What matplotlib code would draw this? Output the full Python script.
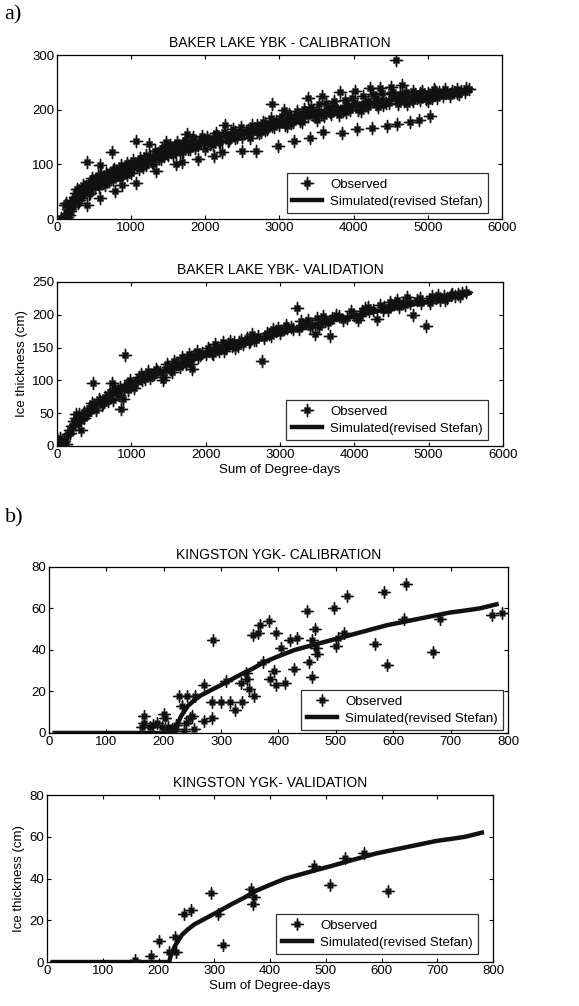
import numpy as np
import matplotlib
matplotlib.use('Agg')
import matplotlib.pyplot as plt
from matplotlib.path import Path

plt.rcParams['font.family'] = ['Liberation Sans', 'DejaVu Sans']

# Baker Lake - calibration: observed (x = sum of degree-days, y = ice thickness cm)
bk_cal_x = [60, 80, 100, 110, 120, 130, 140, 150, 160, 170, 180, 200, 220, 240, 260, 280, 300, 320, 340, 360,
            380, 400, 400, 420, 440, 460, 480, 500, 520, 560, 575, 580, 600, 640, 680, 720, 740, 760, 785, 800,
            840, 870, 880, 920, 960, 1000, 1040, 1060, 1070, 1100, 1140, 1180, 1220, 1245, 1260, 1300, 1340, 1360,
            1400, 1440, 1470, 1500, 1540, 1580, 1600, 1640, 1690, 1700, 1750, 1780, 1820, 1860, 1900, 1940, 1980,
            2020, 2060, 2100, 2120, 2160, 2200, 2230, 2270, 2300, 2350, 2400, 2450, 2500, 2550, 2600, 2650, 2690,
            2700, 2750, 2800, 2850, 2900, 2950, 2980, 3000, 3060, 3100, 3150, 3200, 3250, 3300, 3350, 3390, 3410,
            3450, 3500, 3570, 3580, 3600, 3650, 3700, 3750, 3820, 3840, 3850, 3900, 3950, 4020, 4040, 4050, 4100,
            4150, 4200, 4225, 4245, 4300, 4350, 4400, 4450, 4480, 4500, 4560, 4571, 4590, 4600, 4650, 4680, 4700,
            4760, 4780, 4830, 4880, 4900, 4950, 5000, 5030, 5050, 5100, 5150, 5200, 5250, 5300, 5350, 5400, 5450,
            5500, 5550,
            2000, 2100, 2200, 2300, 2400, 2500, 2600, 2700, 2800, 2900, 3000, 3100, 3200, 3300, 3400, 3500, 3600,
            3700, 3800, 3900, 4000, 4100, 4200, 4300, 4400, 4500, 4600, 4700, 4800, 4900, 5000, 5100, 5200, 5300,
            5400, 1000, 1100, 1200, 1300, 1400, 1500, 1600, 1700, 1800, 1900, 300, 350, 450, 550, 650, 750, 850, 950,
            250, 270, 330, 390, 430, 470, 510, 540, 590, 620, 660, 700, 730, 770, 810, 860, 900, 940, 980, 1020,
            1080, 1120, 1160, 1200, 1280, 1320, 1380, 1420, 1480, 1520, 1560, 1620, 1660, 1720, 1760, 1840, 1880,
            1960, 2040, 2140, 2180, 2250, 2320, 2380, 2430, 2480, 2580, 2630, 2720, 2780, 2830, 2880, 2930, 3030,
            3080, 3130, 3180, 3230, 3280, 3330, 3380, 3430, 3480, 3530, 3560, 3630, 3680, 3730, 3780, 3880, 3930,
            3980, 4060, 4120, 4180, 4260, 4330, 4380, 4430, 4530, 4620, 4720, 4800, 4860, 4920, 4980, 5080, 5130,
            5230, 5330, 5420, 5520]
bk_cal_y = [2, 0, 5, 25, 30, 10, 3, 18, 8, 28, 15, 35, 22, 40, 48, 30, 52, 38, 45, 58,
            50, 105, 25, 62, 55, 70, 60, 66, 72, 58, 98, 38, 75, 70, 80, 85, 122, 72, 52, 88,
            92, 62, 80, 96, 90, 100, 95, 66, 143, 105, 100, 110, 105, 138, 115, 112, 88, 120,
            125, 115, 140, 128, 122, 132, 100, 130, 105, 138, 155, 135, 142, 130, 110, 145, 140,
            150, 138, 148, 115, 152, 145, 122, 172, 150, 155, 148, 158, 125, 160, 155, 165, 125,
            172, 160, 175, 168, 210, 180, 133, 172, 200, 182, 175, 142, 190, 185, 195, 222, 148,
            190, 198, 225, 160, 195, 200, 192, 205, 232, 158, 198, 208, 200, 235, 165, 210, 205,
            212, 215, 240, 166, 210, 240, 218, 170, 212, 242, 222, 290, 174, 220, 245, 215, 225,
            178, 220, 228, 182, 218, 226, 230, 188, 222, 228, 232, 225, 230, 228, 232, 230, 235,
            232, 238,
            128, 135, 140, 143, 160, 150, 148, 160, 162, 170, 180, 170, 185, 178, 200, 182, 188,
            205, 190, 195, 212, 198, 205, 222, 208, 228, 210, 232, 215, 230, 215, 235, 233, 225,
            237, 85, 92, 98, 100, 110, 118, 125, 122, 128, 135, 35, 62, 48, 80, 62, 90, 75, 80,
            40, 55, 48, 60, 45, 75, 58, 68, 82, 65, 85, 70, 78, 92, 80, 98, 85, 102, 92, 108,
            98, 112, 95, 118, 105, 125, 112, 130, 120, 135, 118, 140, 122, 145, 128, 150, 138,
            152, 142, 158, 140, 160, 145, 165, 150, 168, 162, 172, 158, 178, 165, 185, 168, 188,
            172, 192, 178, 198, 180, 202, 188, 205, 188, 210, 192, 212, 196, 215, 200, 218, 205,
            222, 200, 225, 208, 228, 205, 230, 212, 232, 228, 210, 235, 222, 235, 220, 238, 222,
            238, 235, 228, 240]
bk_cal_sim_x = [120, 150, 200, 300, 400, 500, 700, 1000, 1500, 2000, 2500, 3000, 3500, 4000, 4500, 5000, 5550]
bk_cal_sim_y = [0, 12, 25, 42, 55, 65, 80, 98, 125, 145, 160, 178, 195, 208, 218, 226, 236]

# Baker Lake - validation
bk_val_x = [0, 20, 40, 60, 80, 100, 120, 150, 180, 200, 230, 260, 280, 300, 320, 340, 370, 400, 430, 460,
            482, 500, 540, 580, 620, 660, 700, 745, 760, 800, 830, 866, 887, 900, 915, 950, 1000, 1050, 1100,
            1150, 1200, 1250, 1300, 1350, 1420, 1440, 1460, 1500, 1550, 1600, 1650, 1700, 1750, 1800, 1820, 1850,
            1900, 1950, 2000, 2050, 2100, 2150, 2200, 2250, 2300, 2350, 2400, 2450, 2500, 2550, 2600, 2650, 2700,
            2755, 2780, 2850, 2900, 2950, 3000, 3050, 3100, 3150, 3224, 3250, 3300, 3350, 3400, 3469, 3500, 3550,
            3600, 3673, 3700, 3800, 3900, 4000, 4050, 4100, 4150, 4200, 4306, 4350, 4400, 4450, 4500, 4550, 4600,
            4650, 4714, 4750, 4796, 4850, 4900, 4959, 5000, 5050, 5100, 5150, 5200, 5250, 5300, 5350, 5400, 5450,
            170, 220, 250, 310, 360, 420, 470, 520, 560, 600, 640, 680, 720, 780, 850, 940, 980, 1030, 1080, 1130,
            1180, 1230, 1280, 1330, 1380, 1480, 1530, 1580, 1630, 1680, 1730, 1780, 1880, 1930, 2030, 2080, 2130,
            2180, 2230, 2280, 2330, 2380, 2430, 2480, 2580, 2630, 2680, 2820, 2880, 2980, 3080, 3180, 3280, 3380,
            3430, 3530, 3580, 3650, 3750, 3850, 3950, 4080, 4180, 4250, 4380, 4480, 4580, 4680, 4880, 5020, 5120,
            5220, 5320, 5420, 5500]
bk_val_y = [10, 5, 12, 2, 0, 8, 3, 18, 25, 30, 38, 42, 35, 48, 25, 45, 52, 50, 58, 55,
            96, 62, 65, 68, 66, 72, 78, 96, 70, 82, 78, 57, 72, 88, 139, 85, 92, 95, 105,
            100, 108, 104, 110, 115, 100, 105, 118, 120, 112, 125, 120, 128, 132, 125, 118, 138,
            135, 142, 140, 145, 140, 148, 150, 145, 155, 152, 150, 158, 156, 165, 160, 162, 168,
            130, 165, 170, 178, 175, 172, 178, 180, 182, 210, 178, 185, 188, 182, 170, 195, 188,
            192, 167, 195, 198, 195, 200, 192, 205, 210, 205, 193, 215, 212, 208, 215, 218, 212,
            218, 227, 218, 200, 222, 218, 183, 222, 228, 225, 222, 228, 225, 230, 228, 232, 233,
            20, 30, 48, 40, 42, 50, 65, 55, 72, 62, 75, 68, 82, 88, 90, 95, 100, 88, 100, 110,
            102, 115, 108, 118, 112, 125, 118, 130, 125, 135, 125, 140, 145, 138, 150, 142, 155,
            145, 158, 150, 160, 158, 152, 162, 158, 170, 162, 172, 168, 180, 185, 178, 190, 192,
            185, 182, 198, 188, 200, 192, 205, 198, 212, 208, 208, 220, 222, 215, 225, 218, 230,
            222, 232, 228, 235]
bk_val_sim_x = [0, 100, 120, 150, 200, 300, 400, 500, 700, 1000, 1500, 2000, 2500, 3000, 3500, 4000, 4500, 5000, 5550]
bk_val_sim_y = [0, 0, 5, 15, 28, 42, 52, 60, 75, 92, 117, 138, 155, 172, 186, 198, 210, 220, 233]

# Kingston - calibration
kg_cal_x = [162, 166, 166, 176, 181, 189, 197, 200, 203, 208, 208, 214, 219, 222,
            227, 241, 254, 232, 249, 238, 253, 235, 246,
            271, 271, 285, 286, 284, 300, 315, 325, 336, 308, 335, 346, 349, 358, 343, 356, 364, 367, 383, 373,
            396, 464, 459, 432, 420, 404, 465, 468, 454, 427, 459, 386, 396, 411, 392, 503, 500, 514, 569, 589,
            619, 670, 681, 622, 584, 519, 496, 450, 772, 790]
kg_cal_y = [3, 5, 8, 3, 4, 5, 3, 9, 7, 1, 3, 2, 2, 4,
            18, 18, 18, 13, 8, 5, 2, 1, 7,
            23, 6, 7, 45, 15, 15, 15, 11, 15, 25, 24, 26, 21, 18, 29, 47, 48, 52, 54, 34,
            48, 50, 45, 46, 45, 41, 41, 38, 34, 31, 27, 26, 23, 24, 30, 46, 42, 48, 43, 33,
            55, 39, 55, 72, 68, 66, 60, 59, 57, 58]

# Kingston - validation
kg_val_x = [157, 187, 201, 219, 229, 231, 245, 259, 294, 306, 315, 366, 370, 372, 479, 508, 535, 569, 611]
kg_val_y = [1, 3, 10, 5, 12, 5, 23, 25, 33, 23, 8, 35, 28, 31, 46, 37, 50, 52, 34]

# simulated (revised Stefan), same curve for both Kingston panels
kg_sim_x = [10, 100, 200, 219, 222, 226, 230, 236, 242, 252, 264, 285, 306, 333, 355, 374, 400, 428, 455,
            482, 510, 536, 563, 590, 617, 644, 671, 698, 725, 750, 780]
kg_sim_y = [0, 0, 0, 0, 3, 5.5, 8, 10.5, 13, 15.5, 18, 21, 24, 28, 31, 34, 37, 40, 42,
            44, 46, 48, 50, 52, 53.5, 55, 56.5, 58, 59, 60, 62]

# star-like marker (long cardinal arms, short diagonal arms)
verts = []
for k in range(8):
    a = np.deg2rad(90 + 45 * k)
    r = 1.0 if k % 2 == 0 else 0.6
    verts.append((r * np.cos(a), r * np.sin(a)))
    a2 = a + np.deg2rad(22.5)
    verts.append((0.25 * np.cos(a2), 0.25 * np.sin(a2)))
verts.append(verts[0])
star = Path(verts, [Path.MOVETO] + [Path.LINETO] * 15 + [Path.CLOSEPOLY])

fig = plt.figure(figsize=(5.79, 10.06), dpi=100)

panels = [
    dict(rect=[0.0984, 0.7823, 0.7686, 0.163], ox=bk_cal_x, oy=bk_cal_y, sx=bk_cal_sim_x, sy=bk_cal_sim_y,
         title='BAKER LAKE YBK - CALIBRATION', xlim=(0, 6000), ylim=(0, 300),
         xt=range(0, 6001, 1000), yt=range(0, 301, 100), labels=False, ms=9, anchor=(0.969, 0.037)),
    dict(rect=[0.0984, 0.5567, 0.7703, 0.163], ox=bk_val_x, oy=bk_val_y, sx=bk_val_sim_x, sy=bk_val_sim_y,
         title='BAKER LAKE YBK- VALIDATION', xlim=(0, 6000), ylim=(0, 250),
         xt=range(0, 6001, 1000), yt=range(0, 251, 50), labels=True, ms=9, anchor=(0.966, 0.037)),
    dict(rect=[0.0846, 0.2714, 0.7927, 0.165], ox=kg_cal_x, oy=kg_cal_y, sx=kg_sim_x, sy=kg_sim_y,
         title='KINGSTON YGK- CALIBRATION', xlim=(0, 800), ylim=(0, 80),
         xt=range(0, 801, 100), yt=range(0, 81, 20), labels=False, ms=8.5, anchor=(0.989, 0.018)),
    dict(rect=[0.0812, 0.0437, 0.7703, 0.166], ox=kg_val_x, oy=kg_val_y, sx=kg_sim_x, sy=kg_sim_y,
         title='KINGSTON YGK- VALIDATION', xlim=(0, 800), ylim=(0, 80),
         xt=range(0, 801, 100), yt=range(0, 81, 20), labels=True, ms=8.5, anchor=(0.966, 0.048)),
]

for p in panels:
    ax = fig.add_axes(p['rect'])
    ax.plot(p['sx'], p['sy'], color='#111111', lw=3.2, label='Simulated(revised Stefan)', zorder=2)
    ax.plot(p['ox'], p['oy'], ls='none', marker=star, ms=p['ms'], color='#111111', mec='#111111',
            label='Observed', zorder=3)
    ax.set_xlim(*p['xlim'])
    ax.set_ylim(*p['ylim'])
    ax.set_xticks(list(p['xt']))
    ax.set_yticks(list(p['yt']))
    ax.tick_params(direction='in', top=True, right=True, labelsize=9.5, length=3, pad=2)
    ax.set_title(p['title'], fontsize=10, pad=6)
    for s in ax.spines.values():
        s.set_linewidth(0.9)
    h, l = ax.get_legend_handles_labels()
    leg = ax.legend(h[::-1], l[::-1], loc='lower right', bbox_to_anchor=p['anchor'], fontsize=9.5,
                    frameon=True, fancybox=False, edgecolor='black', borderaxespad=0, handlelength=2.3,
                    borderpad=0.4, labelspacing=0.35, handletextpad=0.6)
    leg.get_frame().set_linewidth(0.9)
    if p['labels']:
        ax.set_xlabel('Sum of Degree-days', fontsize=9.5, labelpad=2)
        ax.set_ylabel('Ice thickness (cm)', fontsize=9.5, labelpad=3)

fig.text(0.008, 0.985, 'a)', fontsize=16, family=['Liberation Serif', 'DejaVu Serif'], va='center')
fig.text(0.008, 0.485, 'b)', fontsize=16, family=['Liberation Serif', 'DejaVu Serif'], va='center')

fig.savefig('out.png', dpi=100)
